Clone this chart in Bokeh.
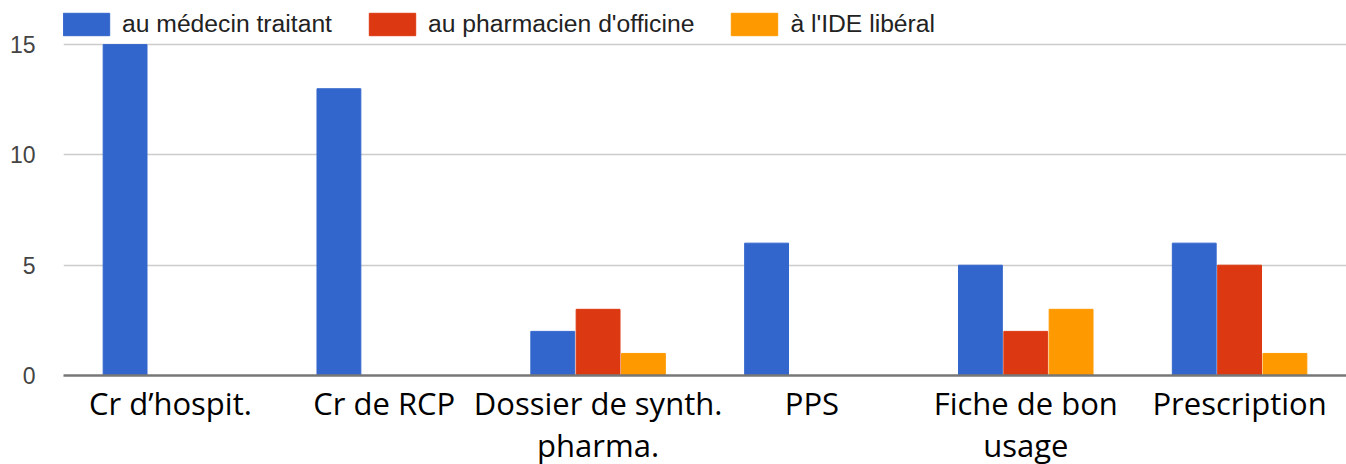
from bokeh.plotting import figure
from bokeh.models import ColumnDataSource, FactorRange, Legend, LegendItem, FixedTicker
from bokeh.transform import dodge
from bokeh.embed import file_html
from bokeh.resources import INLINE

categories = ["Cr d’hospit.", "Cr de RCP", "Dossier de synth.\npharma.", "PPS", "Fiche de bon\nusage", "Prescription"]
medecin = [15, 13, 2, 6, 5, 6]
pharmacien = [0, 0, 3, 0, 2, 5]
ide = [0, 0, 1, 0, 3, 1]
series_names = ["au médecin traitant", "au pharmacien d'officine", "à l'IDE libéral"]
colors = ["#3366cc", "#dc3912", "#ff9900"]
y_ticks = [0, 5, 10, 15]

src = ColumnDataSource(dict(cat=categories, medecin=medecin, pharmacien=pharmacien, ide=ide))

p = figure(x_range=FactorRange(*categories), y_range=(0, 17), frame_width=1283, frame_height=375,
           output_backend="svg", toolbar_location=None,
           min_border_left=63, min_border_right=0, min_border_top=0, min_border_bottom=0)
p.outline_line_color = None

renderers = []
for field, off, col in zip(["medecin", "pharmacien", "ide"], [-0.212, 0.0, 0.212], colors):
    r = p.vbar(x=dodge("cat", off, range=p.x_range), top=field, width=0.205, source=src,
               fill_color=col, line_color=col, line_width=1)
    renderers.append(r)

legend = Legend(items=[LegendItem(label=n, renderers=[r]) for n, r in zip(series_names, renderers)],
                orientation="horizontal", location=(-6, 337))
legend.label_text_font = "Liberation Sans"
legend.label_text_font_size = "24.7px"
legend.label_text_color = "#222222"
legend.glyph_width = 58
legend.glyph_height = 28
legend.label_height = 28
legend.spacing = 31
legend.label_standoff = 7
legend.padding = 0
legend.margin = 0
legend.border_line_color = None
legend.background_fill_alpha = 0
p.add_layout(legend)

p.yaxis.ticker = FixedTicker(ticks=y_ticks)
p.yaxis.axis_line_color = None
p.yaxis.major_tick_line_color = None
p.yaxis.minor_tick_line_color = None
p.yaxis.major_label_text_font = "Liberation Sans"
p.yaxis.major_label_text_font_size = "23px"
p.yaxis.major_label_text_color = "#444444"
p.yaxis.major_label_standoff = 22

p.ygrid.grid_line_color = "#cccccc"
p.ygrid.grid_line_width = 1.5
p.xgrid.grid_line_color = None

p.xaxis.axis_line_color = "#777777"
p.xaxis.axis_line_width = 2.5
p.xaxis.major_tick_line_color = None
p.xaxis.minor_tick_line_color = None
p.xaxis.major_label_text_font = "Open Sans"
p.xaxis.major_label_text_font_size = "31px"
p.xaxis.major_label_text_line_height = 1.02
p.xaxis.major_label_text_color = "#000000"
p.xaxis.major_label_standoff = 0
p.x_range.range_padding = 0

open("out.html", "w").write(file_html(p, INLINE))
